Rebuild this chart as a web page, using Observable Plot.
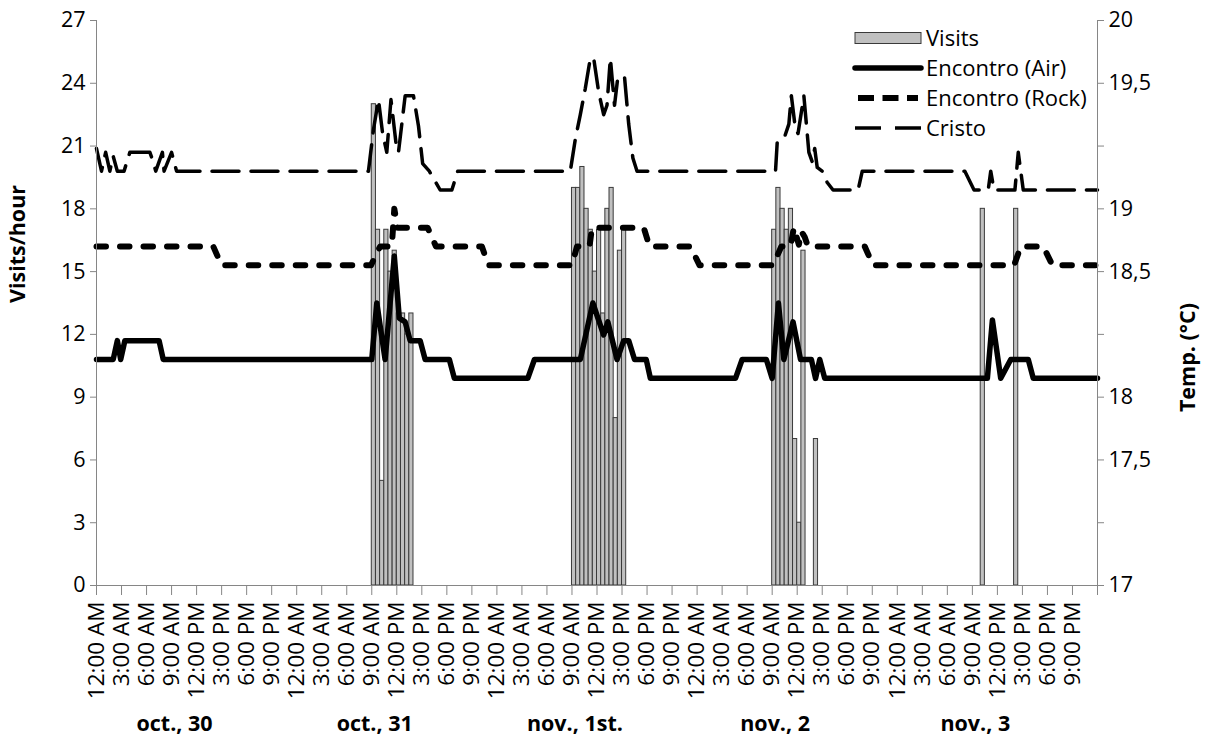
<!DOCTYPE html>
<html><head><meta charset="utf-8">
<script src="https://cdn.jsdelivr.net/npm/d3@7"></script>
<script src="https://cdn.jsdelivr.net/npm/@observablehq/plot@0.6"></script>
<style>
html,body{margin:0;padding:0;background:#fff;}
#chart{width:1205px;height:745px;overflow:hidden;}
</style></head><body><div id="chart"></div>
<script>
// ---------- data ----------
const dayLabels = ["oct., 30", "oct., 31", "nov., 1st.", "nov., 2", "nov., 3"];
const hourLabels = ["12:00 AM", "3:00 AM", "6:00 AM", "9:00 AM", "12:00 PM", "3:00 PM", "6:00 PM", "9:00 PM"];
const leftTicks = [0, 3, 6, 9, 12, 15, 18, 21, 24, 27];
const rightTickLabels = ["17", "", "17,5", "18", "", "18,5", "19", "", "19,5", "20"];
const tempMin = 17, tempMax = 20;
const legendNames = ["Visits", "Encontro (Air)", "Encontro (Rock)", "Cristo"];

// visits per half hour, from 9:00 AM of each day
const visitsStartHour = 9;
const visitsOct31 = [23, 17, 5, 17, 15, 16, 13, 13, 12, 13];
const visitsNov1 = [19, 19, 20, 18, 17, 15, 17, 13, 18, 19, 8, 16, 17];
const visitsNov2 = [17, 19, 18, 17, 18, 7, 3, 16, 0, 0, 7];
const visitsNov3Hours = [10, 14];
const visitsNov3 = [18, 18];

// temperatures: [hours since oct 30 00:00, °C]
const encontroAir = [[0,18.2],[2,18.2],[2.5,18.3],[2.9,18.2],[3.4,18.3],[7.5,18.3],[8,18.2],[33,18.2],[33.6,18.5],[34.6,18.2],[35.7,18.75],[36.3,18.42],[37,18.4],[37.6,18.3],[38.8,18.3],[39.4,18.2],[42.3,18.2],[42.9,18.1],[51.7,18.1],[52.5,18.2],[58,18.2],[59.5,18.5],[60.8,18.33],[61.3,18.4],[62.4,18.2],[63.2,18.3],[63.8,18.3],[64.5,18.2],[65.9,18.2],[66.4,18.1],[76.6,18.1],[77.4,18.2],[80.3,18.2],[81,18.1],[81.75,18.5],[82.4,18.2],[83.5,18.4],[84.4,18.2],[85.7,18.2],[86.2,18.1],[86.7,18.2],[87.3,18.1],[106.8,18.1],[107.4,18.41],[108.4,18.1],[109.6,18.2],[111.7,18.2],[112.3,18.1],[120,18.1]];
const encontroRock = [[0,18.8],[14,18.8],[15,18.7],[32.9,18.7],[34,18.8],[35.4,18.8],[35.7,19.0],[36.1,18.9],[39.7,18.9],[40.7,18.8],[46.2,18.8],[47,18.7],[57,18.7],[57.6,18.8],[59.1,18.8],[59.4,18.9],[65.6,18.9],[66.3,18.8],[71.2,18.8],[72.3,18.7],[81.1,18.7],[82.1,18.8],[83.2,18.8],[83.6,18.9],[84.2,18.81],[84.5,18.88],[84.9,18.85],[85.3,18.8],[92.1,18.8],[93.1,18.7],[110,18.7],[110.8,18.8],[113.5,18.8],[114.6,18.7],[120,18.7]];
const cristo = [[0,19.32],[0.6,19.2],[1.1,19.3],[1.6,19.2],[2,19.28],[2.5,19.2],[3.3,19.2],[4,19.3],[6.4,19.3],[6.8,19.25],[7.1,19.2],[7.9,19.3],[8.1,19.2],[9,19.3],[9.6,19.2],[32.6,19.2],[33.2,19.42],[33.8,19.58],[34.3,19.4],[34.8,19.3],[35.3,19.58],[35.9,19.35],[36.2,19.3],[36.6,19.45],[37,19.6],[38,19.6],[38.6,19.44],[39.1,19.24],[39.9,19.2],[41.2,19.1],[42.6,19.1],[43.3,19.2],[56.8,19.2],[57.4,19.37],[58,19.5],[58.6,19.64],[59.2,19.8],[59.6,19.8],[60.2,19.62],[60.8,19.5],[61.2,19.55],[61.6,19.8],[62.1,19.55],[62.5,19.7],[63.3,19.7],[63.8,19.45],[64.3,19.27],[64.8,19.2],[81.4,19.2],[81.6,19.35],[82.4,19.37],[83,19.45],[83.3,19.6],[83.8,19.42],[84.1,19.4],[84.8,19.6],[85.4,19.3],[85.8,19.25],[86.1,19.32],[86.4,19.22],[87,19.2],[87.6,19.14],[88.3,19.1],[91.3,19.1],[91.8,19.2],[104.1,19.2],[105.2,19.1],[106.9,19.1],[107.2,19.2],[107.6,19.1],[110.1,19.1],[110.5,19.3],[111.1,19.1],[120,19.1]];

// ---------- build ----------
const FONT = "'Open Sans', sans-serif";
const FS = 21.5, FS_TICK = 22.5, FS_LEG = 22;
const visits = [];
[[1, visitsOct31], [2, visitsNov1], [3, visitsNov2]].forEach(([d, arr]) =>
  arr.forEach((v, i) => visits.push({h0: d * 24 + visitsStartHour + i * 0.5, v})));
visitsNov3.forEach((v, i) => visits.push({h0: 4 * 24 + visitsNov3Hours[i], v}));
const toY = t => (t - tempMin) * 27 / (tempMax - tempMin);
const xTicks = d3.range(0, 121, 3);

const lineStyles = {
  air: {stroke: "#000", strokeWidth: 5.5, strokeLinejoin: "round", strokeLinecap: "round"},
  rock: {stroke: "#000", strokeWidth: 6, strokeDasharray: "9.5,14", strokeLinecap: "round", strokeLinejoin: "round"},
  cristo: {stroke: "#000", strokeWidth: 3.5, strokeDasharray: "27,12", strokeLinejoin: "round"}
};

const plot = Plot.plot({
  width: 1205, height: 745,
  marginLeft: 96, marginRight: 108, marginTop: 20, marginBottom: 160,
  style: {fontFamily: FONT, fontSize: FS + "px", color: "#000", background: "#fff"},
  x: {domain: [0, 120]},
  y: {domain: [0, 27]},
  marks: [
    Plot.rectY(visits.filter(d => d.v > 0), {x1: "h0", x2: d => d.h0 + 0.5, y1: 0, y2: "v", fill: "#c0c0c0", stroke: "#3a3a3a", strokeWidth: 1, inset: 0}),
    Plot.line(encontroAir, {x: d => d[0], y: d => toY(d[1]), ...lineStyles.air}),
    Plot.line(encontroRock, {x: d => d[0], y: d => toY(d[1]), ...lineStyles.rock}),
    Plot.line(cristo, {x: d => d[0], y: d => toY(d[1]), ...lineStyles.cristo}),
    Plot.ruleX([0, 120], {stroke: "#868686"}),
    Plot.ruleY([0], {stroke: "#868686"}),
    Plot.axisY(leftTicks, {anchor: "left", tickSize: 6, tickPadding: 5, stroke: "#868686", fill: "#000", fontSize: FS, label: null}),
    Plot.axisY(leftTicks, {anchor: "right", tickSize: 6, tickPadding: 5, stroke: "#868686", fill: "#000", fontSize: FS, label: null,
      tickFormat: d => rightTickLabels[d / 3]}),
    Plot.axisX(xTicks, {anchor: "bottom", tickSize: 10, tickPadding: 6, tickRotate: -90, stroke: "#868686", fill: "#000", fontSize: FS_TICK, label: null,
      tickFormat: d => d < 120 ? hourLabels[(d / 3) % 8] : ""}),
    Plot.text(dayLabels, {x: (d, i) => i * 24 + 9.35, text: d => d, frameAnchor: "bottom", dy: 145, fontWeight: "bold", fontSize: FS, fill: "#000"}),
    Plot.text(["Visits/hour"], {text: d => d, frameAnchor: "left", dx: -78, rotate: -90, fontWeight: "bold", fontSize: FS, fill: "#000"}),
    Plot.text(["Temp. (°C)"], {text: d => d, frameAnchor: "right", dx: 91, rotate: -90, fontWeight: "bold", fontSize: FS, fill: "#000"})
  ]
});

// legend inside plot area (top right)
const svg = d3.select(plot);
const lg = svg.append("g").attr("font-family", FONT).attr("font-size", FS_LEG + "px").attr("text-anchor", "start");
const lx0 = 855, lx1 = 921, ltx = 926, ly0 = 38, ldy = 30;
legendNames.forEach((name, i) => {
  const cy = ly0 + i * ldy;
  if (i === 0) {
    lg.append("rect").attr("x", lx0).attr("y", cy - 5.5).attr("width", lx1 - lx0).attr("height", 11)
      .attr("fill", "#c0c0c0").attr("stroke", "#3a3a3a").attr("stroke-width", 1);
  } else {
    const st = [null, lineStyles.air, lineStyles.rock, lineStyles.cristo][i];
    const ln = lg.append("line").attr("x1", lx0 + (i === 2 ? 3 : 0)).attr("x2", lx1 - (i === 2 ? 3 : 0)).attr("y1", cy).attr("y2", cy)
      .attr("stroke", st.stroke).attr("stroke-width", st.strokeWidth);
    if (st.strokeDasharray) ln.attr("stroke-dasharray", i === 3 ? "26,14" : "16,8.5");
    if (st.strokeLinecap) ln.attr("stroke-linecap", i === 2 ? "butt" : st.strokeLinecap);
  }
  lg.append("text").attr("x", ltx).attr("y", cy).attr("dy", "0.35em").attr("text-anchor", "start").attr("fill", "#000").text(name);
});

document.getElementById("chart").appendChild(plot);
</script>
</body></html>
